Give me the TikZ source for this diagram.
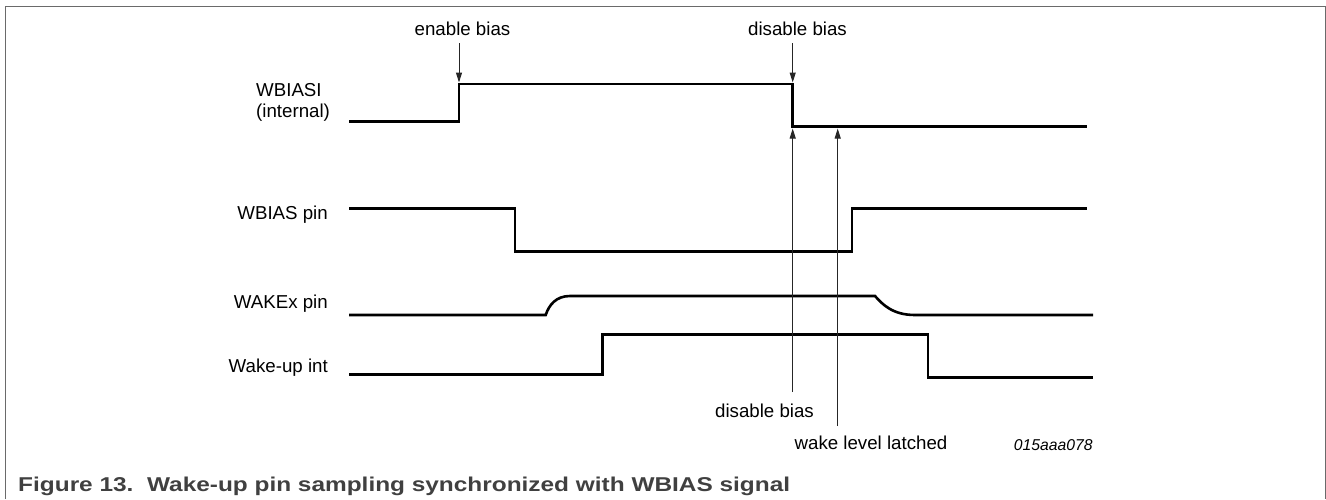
\documentclass[tikz,border=0pt]{standalone}
\usepackage{fontspec}
\setmainfont{Liberation Sans}
\usetikzlibrary{arrows.meta}
\definecolor{capgray}{HTML}{404040}
\definecolor{framegray}{HTML}{6A6A6A}
\begin{document}
\begin{tikzpicture}[x=1pt,y=-1pt,
  sig/.style={line width=2.6pt, line join=miter, black},
  markline/.style={line width=1pt, black!85, -{Triangle[length=10pt,width=6pt]}},
  lbl/.style={inner sep=0pt, font=\fontsize{18.7}{21}\selectfont},
  idlbl/.style={inner sep=0pt, font=\fontsize{15.7}{18}\selectfont\itshape},
  caplbl/.style={inner sep=0pt, text=capgray, font=\fontsize{20}{22}\selectfont\bfseries},
  framel/.style={draw=framegray, line width=1pt}]
\useasboundingbox (0,0) rectangle (1326,499);
% frame
\draw[framel] (5,499) -- (5,6) -- (1325,6) -- (1325,499);

% signal labels
\node[lbl, anchor=base west] (wbiasi1) at (256,96) {WBIASI};
\node[lbl, anchor=base west] (wbiasi2) at (256,117) {(internal)};
\node[lbl, anchor=base east] (wbiaspin) at (328,219.5) {WBIAS pin};
\node[lbl, anchor=base east] (wakex) at (328,308.7) {WAKEx pin};
\node[lbl, anchor=base east] (wakeint) at (328,372.7) {Wake-up int};

% event labels
\node[lbl, anchor=base] (enlbl) at (462.5,35) {enable bias};
\node[lbl, anchor=base] (distop) at (797.5,35) {disable bias};
\node[lbl, anchor=base] (disbot) at (764.5,417.3) {disable bias};
\node[lbl, anchor=base] (latch) at (871,449.3) {wake level latched};
\node[idlbl, anchor=base east] (figid) at (1092.7,450.7) {015aaa078};

% caption
\node[caplbl, anchor=base west, xscale=1.22] (cap) at (18,491) {Figure 13.\ \ Wake-up pin sampling synchronized with WBIAS signal};

% WBIASI
\draw[sig] (349,121.5) -- (459,121.5) -- (459,84) -- (792.7,84) -- (792.7,126.5) -- (1086.7,126.5);
% WBIAS pin
\draw[sig] (349,208.3) -- (515,208.3) -- (515,251.7) -- (852,251.7) -- (852,208.3) -- (1086.7,208.3);
% WAKEx pin
\draw[sig] (349,315) -- (545.7,315) .. controls (549,305) and (556,296) .. (570,296) -- (875,296)
  .. controls (883,305) and (893,315) .. (915,315) -- (1093,315);
% Wake-up int
\draw[sig] (349,374.5) -- (602.7,374.5) -- (602.7,334.3) -- (928,334.3) -- (928,377.7) -- (1093,377.7);

% marker coordinates
\coordinate (enS) at (459,43);
\coordinate (enT) at (459,82.5);
\coordinate (dsS) at (792.7,43);
\coordinate (dsT) at (792.7,82.5);
\coordinate (dbS) at (792.7,392);
\coordinate (dbT) at (792.7,128.5);
\coordinate (lwS) at (837.7,426);
\coordinate (lwT) at (837.7,128.5);

\draw[markline] (enS) -- (enT);
\draw[markline] (dsS) -- (dsT);
\draw[markline] (dbS) -- (dbT);
\draw[markline] (lwS) -- (lwT);
\end{tikzpicture}
\end{document}
